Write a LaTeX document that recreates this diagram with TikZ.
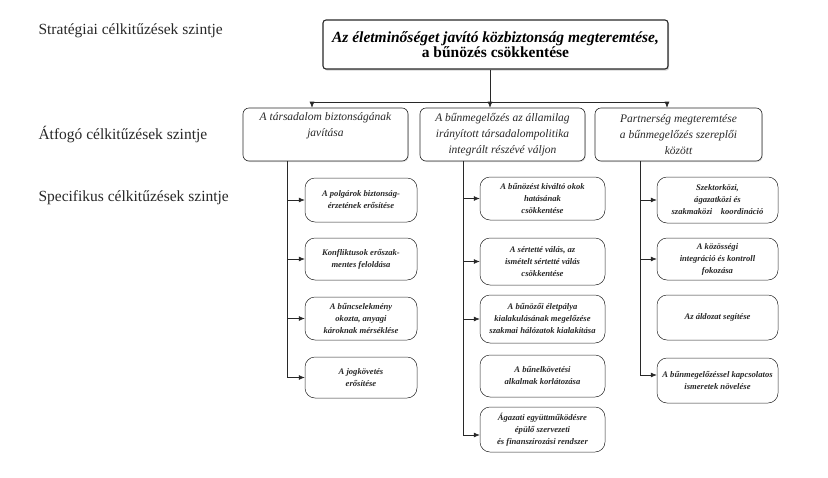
\documentclass[tikz,border=0pt]{standalone}
\usepackage{fontspec}
\setmainfont{Liberation Serif}
\usepackage{tikz}
\usetikzlibrary{arrows.meta, positioning, shadows, calc}
\definecolor{ink}{RGB}{40,40,40}

\begin{document}
\begin{tikzpicture}[x=1pt, y=-1pt,
  lvl/.style={anchor=west, font=\fontsize{15.5}{18}\selectfont, text=ink},
  topbox/.style={draw=ink, line width=1.1pt, rounded corners=3pt, fill=white, align=center,
    drop shadow={shadow xshift=1.2pt, shadow yshift=-1.6pt, fill=gray!70}},
  midbox/.style={draw=ink, line width=0.6pt, rounded corners=6pt, fill=white, align=center,
    font=\fontsize{11.5}{16}\selectfont\itshape, text=ink,
    drop shadow={shadow xshift=0.8pt, shadow yshift=-1pt, fill=gray!50}},
  leaf/.style={draw=ink, line width=0.5pt, rounded corners=10pt, fill=white, align=center,
    font=\fontsize{8.6}{12}\selectfont\bfseries\itshape, text=ink, inner sep=1pt},
  arr/.style={-{Latex[length=6pt, width=5pt]}, draw=ink, line width=0.6pt},
  ln/.style={draw=ink, line width=0.6pt},
]
\useasboundingbox (0,0) rectangle (828,477);

% Level labels
\node[lvl] (l1) at (35,31) {Stratégiai célkitűzések szintje};
\node[lvl] (l2) at (35,135) {Átfogó célkitűzések szintje};
\node[lvl] (l3) at (35,198) {Specifikus célkitűzések szintje};

% Strategic goal
\node[topbox, minimum width=345pt, minimum height=49pt] (top) at (495.5,44.5)
  {\fontsize{15.5}{18}\selectfont\bfseries\itshape Az életminőséget javító közbiztonság megteremtése,\\
   \fontsize{15.5}{18}\selectfont\bfseries a bűnözés csökkentése};

% Overall goals
\node[midbox, minimum width=165pt, minimum height=53pt] (g1) at (325.5,134.5)
  {A társadalom biztonságának\\ javítása\\ \strut};
\node[midbox, minimum width=165pt, minimum height=53pt] (g2) at (502.5,134.5)
  {A bűnmegelőzés az államilag\\ irányított társadalompolitika\\ integrált részévé váljon};
\node[midbox, minimum width=167pt, minimum height=53pt] (g3) at (678.5,134.5)
  {Partnerség megteremtése\\ a bűnmegelőzés szereplői\\ között};

% Specific goals (left)
\node[leaf, minimum width=112pt, minimum height=44pt] (a1) at (361,200) {A polgárok biztonság-\\ érzetének erősítése};
\node[leaf, minimum width=112pt, minimum height=42pt] (a2) at (361,259) {Konfliktusok erőszak-\\ mentes feloldása};
\node[leaf, minimum width=112pt, minimum height=43pt] (a3) at (361,318.5) {A bűncselekmény\\ okozta, anyagi\\ károknak mérséklése};
\node[leaf, minimum width=112pt, minimum height=41pt] (a4) at (361,377.5) {A jogkövetés\\ erősítése};

% Specific goals (middle)
\node[leaf, minimum width=125pt, minimum height=43pt] (b1) at (542.5,198.5) {A bűnözést kiváltó okok\\ hatásának\\ csökkentése};
\node[leaf, minimum width=125pt, minimum height=47pt] (b2) at (542.5,261.5) {A sértetté válás, az\\ ismételt sértetté válás\\ csökkentése};
\node[leaf, minimum width=125pt, minimum height=48pt] (b3) at (542.5,319) {A bűnözői életpálya\\ kialakulásának megelőzése\\ szakmai hálózatok kialakítása};
\node[leaf, minimum width=125pt, minimum height=42pt] (b4) at (542.5,376) {A bűnelkövetési\\ alkalmak korlátozása};
\node[leaf, minimum width=125pt, minimum height=45pt] (b5) at (542.5,429.5) {Ágazati együttműködésre\\ épülő szervezeti\\ és finanszírozási rendszer};

% Specific goals (right)
\node[leaf, minimum width=121pt, minimum height=46pt] (c1) at (717.5,200) {Szektorközi,\\ ágazatközi és\\ szakmaközi\quad koordináció};
\node[leaf, minimum width=121pt, minimum height=42pt] (c2) at (717.5,259) {A közösségi\\ integráció és kontroll\\ fokozása};
\node[leaf, minimum width=121pt, minimum height=45pt] (c3) at (717.5,317.5) {Az áldozat segítése};
\node[leaf, minimum width=121pt, minimum height=45pt] (c4) at (717.5,380.5) {A bűnmegelőzéssel kapcsolatos\\ ismeretek növelése};

% Top -> overall goals
\coordinate (bus) at (490,102);
\draw[ln] (top.south -| bus) -- (bus);
\draw[ln] (bus -| 312,0) -- (bus -| 667,0);
\draw[arr] (bus -| 312,0) -- (g1.north -| 312,0);
\draw[arr] (bus) -- (g2.north -| bus);
\draw[arr] (bus -| 667,0) -- (g3.north -| 667,0);

% Overall -> specific (trunks)
\coordinate (ta) at (287,0);
\coordinate (tb) at (463,0);
\coordinate (tc) at (640,0);
\draw[ln] (g1.south -| ta) -- (a4.west -| ta);
\draw[ln] (g2.south -| tb) -- ($(b5.west -| tb)+(0,5.5)$);
\draw[ln] (g3.south -| tc) -- ($(c4.west -| tc)+(0,-5.5)$);
\foreach \n in {a1,a2,a3,a4}
  \draw[arr] (\n.west -| ta) -- (\n.west);
\foreach \n in {b1,b2,b3}
  \draw[arr] (\n.west -| tb) -- (\n.west);
\draw[arr] ($(b5.west -| tb)+(0,5.5)$) -- ($(b5.west)+(0,5.5)$);
\foreach \n in {c1,c2}
  \draw[arr] (\n.west -| tc) -- (\n.west);
\draw[arr] ($(c4.west -| tc)+(0,-5.5)$) -- ($(c4.west)+(0,-5.5)$);
\end{tikzpicture}
\end{document}
